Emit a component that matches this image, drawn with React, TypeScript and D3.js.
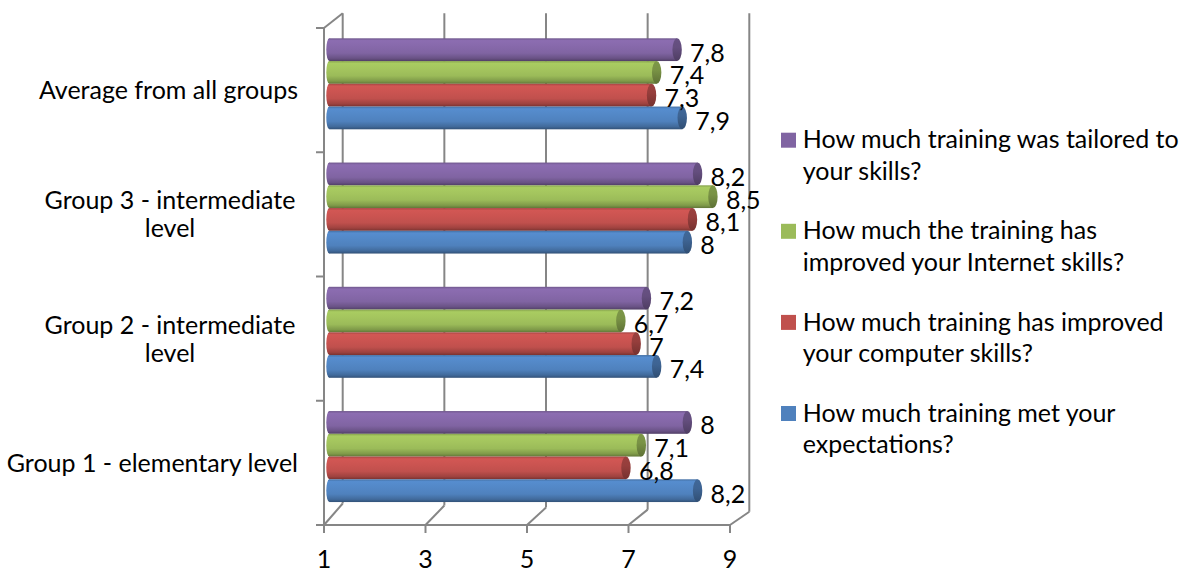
import React from "react";
import * as d3 from "d3";

const categories = [
  "Average from all groups",
  "Group 3 - intermediate level",
  "Group 2 - intermediate level",
  "Group 1 - elementary level",
];
const categoryLabelLines = [
  ["Average from all groups"],
  ["Group 3 - intermediate", "level"],
  ["Group 2 - intermediate", "level"],
  ["Group 1 - elementary level"],
];
const seriesNames = [
  "How much training met your expectations?",
  "How much training has improved your computer skills?",
  "How much the training has improved your Internet skills?",
  "How much training was tailored to your skills?",
];
const legendLines = [
  ["How much training met your", "expectations?"],
  ["How much training has improved", "your computer skills?"],
  ["How much the training has", "improved your Internet skills?"],
  ["How much training was tailored to", "your skills?"],
];
const seriesColors = ["#4F81BD", "#C0504D", "#9BBB59", "#8064A2"];
const metExpectations = [7.9, 8, 7.4, 8.2];
const computerSkills = [7.3, 8.1, 7, 6.8];
const internetSkills = [7.4, 8.5, 6.7, 7.1];
const tailoredSkills = [7.8, 8.2, 7.2, 8];
const seriesValues = [metExpectations, computerSkills, internetSkills, tailoredSkills];
const xTicks = [1, 3, 5, 7, 9];
const xDomain: [number, number] = [1, 9];

const W = 1183;
const H = 572;
const FONT = "Lato, 'Open Sans', sans-serif";
const FS = 25;
const GRID = "#868686";

const fmt = d3.formatLocale({ decimal: ",", thousands: ".", grouping: [3], currency: ["", ""] }).format("~f");

export default function App() {
  const xBar = d3.scaleLinear().domain(xDomain).range([329.3, 738.5]);
  const xFront = d3.scaleLinear().domain(xDomain).range([324, 730]);
  const xBack = d3.scaleLinear().domain(xDomain).range([342.7, 749.3]);
  const backBottom = d3.scaleLinear().domain(xDomain).range([503.5, 511.7]);
  const backTop = 13.3;
  const frontY = 525;
  const yBand = d3.scaleBand<string>().domain(categories).range([28, frontY]).padding(0);
  const groupOffset = 10.3;
  const groupH = 91;
  const order = seriesNames.map((_, i) => i).reverse(); // top-to-bottom
  const inner = d3.scaleBand<number>().domain(order).range([0, groupH]).padding(0);
  const bh = inner.bandwidth();
  const capRx = 4.7;

  const bandEdges = [...categories.map((c) => yBand(c)!), frontY];

  return (
    <svg
      width={W}
      height={H}
      style={{ position: "absolute", left: 0, top: 0, display: "block", background: "#fff" }}
      fontFamily={FONT}
    >
      <defs>
        {seriesColors.map((c, i) => {
          const col = d3.color(c)!;
          return (
            <React.Fragment key={i}>
              <linearGradient id={`bar${i}`} x1="0" y1="0" x2="0" y2="1">
                <stop offset="0%" stopColor={col.darker(0.4).formatHex()} />
                <stop offset="10%" stopColor={col.brighter(0.25).formatHex()} />
                <stop offset="35%" stopColor={col.brighter(0.15).formatHex()} />
                <stop offset="65%" stopColor={col.formatHex()} />
                <stop offset="88%" stopColor={col.darker(0.55).formatHex()} />
                <stop offset="100%" stopColor={col.darker(1.3).formatHex()} />
              </linearGradient>
              <linearGradient id={`cap${i}`} x1="0" y1="0" x2="0" y2="1">
                <stop offset="0%" stopColor={col.darker(0.6).formatHex()} />
                <stop offset="40%" stopColor={col.darker(0.7).formatHex()} />
                <stop offset="100%" stopColor={col.darker(1.4).formatHex()} />
              </linearGradient>
            </React.Fragment>
          );
        })}
      </defs>

      {/* back wall gridlines and floor */}
      {xTicks.map((t) => (
        <g key={`g${t}`} stroke={GRID} strokeWidth={2} fill="none">
          <line x1={xBack(t)} y1={backTop} x2={xBack(t)} y2={backBottom(t)} />
          <line x1={xBack(t)} y1={backBottom(t)} x2={xFront(t)} y2={frontY} />
          <line x1={xFront(t)} y1={frontY} x2={xFront(t)} y2={frontY + 8} />
        </g>
      ))}
      <g stroke={GRID} strokeWidth={2} fill="none">
        <line x1={xFront(1)} y1={frontY} x2={xFront(9)} y2={frontY} />
        <line x1={xFront(1)} y1={bandEdges[0]} x2={xFront(1)} y2={frontY} />
        <line x1={xFront(1)} y1={bandEdges[0]} x2={xBack(1)} y2={backTop} />
        {bandEdges.map((y, i) => (
          <line key={i} x1={xFront(1) - 8} y1={y} x2={xFront(1)} y2={y} />
        ))}
      </g>

      {/* bars */}
      {categories.map((cat, ci) =>
        order.map((s) => {
          const v = seriesValues[s][ci];
          const y0 = yBand(cat)! + groupOffset + inner(s)!;
          const xs = xBar(xDomain[0]);
          const xe = xBar(v);
          return (
            <g key={`${ci}-${s}`}>
              <ellipse cx={xs} cy={y0 + bh / 2} rx={3} ry={bh / 2} fill={`url(#bar${s})`} />
              <rect x={xs} y={y0} width={xe - xs} height={bh} fill={`url(#bar${s})`} />
              <ellipse cx={xe} cy={y0 + bh / 2} rx={capRx} ry={bh / 2} fill={`url(#cap${s})`} />
            </g>
          );
        })
      )}

      {/* data labels */}
      {categories.map((cat, ci) =>
        order.map((s) => {
          const v = seriesValues[s][ci];
          const yc = yBand(cat)! + groupOffset + inner(s)! + bh / 2;
          return (
            <text key={`l${ci}-${s}`} x={xBar(v) + 13} y={yc + 12} fontSize={FS} fill="#000">
              {fmt(v)}
            </text>
          );
        })
      )}

      {/* category labels */}
      {categories.map((cat, ci) => {
        const lines = categoryLabelLines[ci];
        const yc = yBand(cat)! + yBand.bandwidth() / 2;
        if (lines.length === 1) {
          return (
            <text key={`c${ci}`} x={298} y={yc + 9} fontSize={FS} textAnchor="end" fill="#000">
              {lines[0]}
            </text>
          );
        }
        const lh = 28;
        return (
          <text key={`c${ci}`} fontSize={FS} textAnchor="middle" fill="#000">
            {lines.map((ln, li) => (
              <tspan key={li} x={170} y={yc + 9 - (lh * (lines.length - 1)) / 2 + li * lh}>
                {ln}
              </tspan>
            ))}
          </text>
        );
      })}

      {/* x tick labels */}
      {xTicks.map((t) => (
        <text key={`t${t}`} x={xFront(t)} y={568} fontSize={FS} textAnchor="middle" fill="#000">
          {t}
        </text>
      ))}

      {/* legend */}
      {order.map((s, i) => {
        const base = 148.3 + i * 91.1;
        return (
          <g key={`lg${s}`}>
            <rect x={781} y={base - 15.6} width={15} height={15} fill={seriesColors[s]} />
            <text fontSize={FS} fill="#000">
              {legendLines[s].map((ln, li) => (
                <tspan key={li} x={802.7} y={base + li * 31.7}>
                  {ln}
                </tspan>
              ))}
            </text>
          </g>
        );
      })}
    </svg>
  );
}
